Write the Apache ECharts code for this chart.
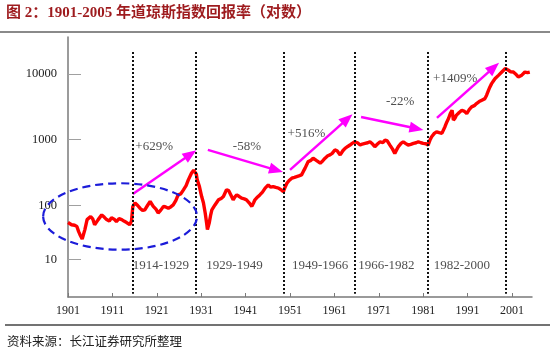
<!DOCTYPE html>
<html>
<head>
<meta charset="utf-8">
<script src="https://cdn.jsdelivr.net/npm/echarts@6/dist/echarts.min.js"></script>
<style>
    html, body { margin: 0; padding: 0; background: #fff; }
    #chart { width: 554px; height: 353px; }
</style>
</head>
<body>
<div id="chart"></div>
<script>
// dow jones index (log scale)
const years = [1901.0, 1901.8, 1902.5, 1903.0, 1903.4, 1903.7, 1904.2, 1904.8, 1905.3, 1906.1,
    1906.6, 1907.0, 1907.4, 1907.8, 1908.6, 1909.2, 1909.7, 1910.3, 1910.8, 1911.4,
    1911.9, 1912.5, 1913.1, 1913.6, 1914.2, 1914.9, 1915.3, 1915.6, 1916.1, 1916.7,
    1917.2, 1917.8, 1918.3, 1918.9, 1919.5, 1920.2, 1920.8, 1921.3, 1921.9, 1922.5,
    1923.0, 1923.6, 1924.2, 1924.7, 1925.3, 1925.8, 1926.4, 1927.0, 1927.6, 1928.1,
    1928.8, 1929.3, 1929.6, 1929.9, 1930.1, 1930.6, 1931.1, 1931.5, 1931.9, 1932.2,
    1932.4, 1932.8, 1933.1, 1933.4, 1934.1, 1934.9, 1935.5, 1936.0, 1936.7, 1937.2,
    1937.5, 1937.9, 1938.2, 1938.6, 1939.0, 1939.5, 1940.1, 1940.7, 1941.2, 1941.8,
    1942.4, 1942.8, 1943.1, 1943.7, 1944.2, 1944.8, 1945.4, 1946.1, 1946.6, 1947.2,
    1947.8, 1948.4, 1948.9, 1949.5, 1949.9, 1950.3, 1950.8, 1951.4, 1952.0, 1952.5,
    1953.0, 1953.6, 1954.0, 1954.4, 1955.1, 1955.6, 1956.2, 1956.6, 1957.0, 1957.4,
    1957.8, 1958.4, 1958.9, 1959.5, 1960.0, 1960.5, 1961.1, 1961.6, 1962.0, 1962.3,
    1962.9, 1963.4, 1964.0, 1964.5, 1965.0, 1965.6, 1966.2, 1966.8, 1967.3, 1967.9,
    1968.5, 1969.0, 1969.6, 1970.1, 1970.7, 1971.3, 1971.9, 1972.4, 1972.9, 1973.5,
    1974.1, 1974.6, 1975.0, 1975.4, 1976.0, 1976.5, 1977.0, 1977.6, 1978.2, 1978.8,
    1979.4, 1979.9, 1980.5, 1981.0, 1981.6, 1982.1, 1982.5, 1982.9, 1983.5, 1984.0,
    1984.6, 1985.2, 1985.9, 1986.3, 1986.7, 1987.1, 1987.5, 1987.8, 1988.2, 1988.5,
    1989.1, 1989.7, 1990.3, 1990.8, 1991.4, 1991.9, 1992.5, 1993.0, 1993.6, 1994.2,
    1994.9, 1995.3, 1995.7, 1996.0, 1996.4, 1996.8, 1997.2, 1997.6, 1998.0, 1998.3,
    1998.7, 1999.1, 1999.5, 1999.9, 2000.2, 2000.7, 2001.3, 2001.8, 2002.4, 2002.8,
    2003.2, 2003.6, 2003.9, 2004.5, 2005.0];
const dow = [55, 51, 50, 48, 40, 36, 31, 43, 61, 68,
    62, 51, 48, 61, 72, 66, 61, 58, 65, 62,
    57, 63, 61, 58, 55, 51, 58, 97, 109, 100,
    91, 84, 86, 100, 115, 97, 88, 77, 85, 97,
    95, 91, 96, 102, 120, 145, 150, 173, 200, 245,
    310, 345, 370, 300, 245, 194, 137, 110, 77, 55,
    43, 54, 70, 86, 102, 122, 128, 137, 173, 168,
    163, 135, 122, 135, 145, 138, 129, 126, 122, 110,
    97, 110, 122, 135, 145, 160, 184, 206, 190, 194,
    188, 184, 175, 163, 190, 218, 240, 260, 268, 275,
    282, 292, 330, 370, 465, 480, 524, 493, 480, 465,
    440, 480, 524, 570, 588, 620, 699, 680, 640, 588,
    680, 740, 790, 830, 880, 932, 900, 830, 860, 880,
    900, 932, 860, 784, 860, 932, 900, 988, 960, 830,
    720, 620, 700, 784, 880, 932, 880, 830, 850, 880,
    900, 932, 900, 880, 870, 830, 980, 1110, 1250, 1320,
    1280, 1250, 1580, 1850, 2100, 2500, 2810, 1990, 2150, 2370,
    2600, 2810, 2700, 2500, 2900, 3160, 3300, 3550, 3800, 3990,
    4220, 4800, 5630, 6300, 7130, 7800, 8520, 8000, 9600, 9000,
    10700, 11200, 12100, 11700, 11400, 10800, 10700, 10000, 9000, 8900,
    9600, 10200, 10700, 10500, 10700];

// axis ticks
const xTicks = [1901, 1911, 1921, 1931, 1941, 1951, 1961, 1971, 1981, 1991, 2001];
const yTickValues = [15, 100, 1000, 10000];
const yTickLabels = ["10", "100", "1000", "10000"];

// period boundaries and names
const periodYears = [1915.5, 1929.8, 1949.6, 1965.6, 1982.1, 1999.5];
const periodNames = ["1914-1929", "1929-1949", "1949-1966", "1966-1982", "1982-2000"];
const periodNameX = [1921.9, 1938.5, 1957.8, 1972.7, 1989.7];

// return of every period, with the arrow drawn for it
const returnNames = ["+629%", "-58%", "+516%", "-22%", "+1409%"];
const returnX = [1920.4, 1941.3, 1954.7, 1975.8, 1988.2];
const returnY = [787, 787, 1227, 3800, 8420];
const arrowFrom = [[1915.6, 150], [1932.5, 701], [1951.0, 348], [1967.0, 2223], [1984.1, 2149]];
const arrowTo = [[1928.6, 600], [1947.9, 345], [1963.9, 2080], [1979.5, 1480], [1996.9, 12600]];

// dashed ellipse around 1901-1929 (two corners of its box)
const ellipseBox = [[1895.4, 218, 1930.05, 21.3]];

const serif = "'Liberation Serif', 'Times New Roman', 'Noto Sans CJK SC', serif";

let chart = echarts.init(document.querySelector("#chart"));

let option = {
    animation: false,
    grid: { left: 68, right: 22, top: 37, bottom: 56, outerBoundsMode: "none" },
    xAxis: {
        type: "value",
        min: 1901,
        max: 2005.5,
        axisLine: { lineStyle: { color: "#7a7a7a", width: 1.5 } },
        axisTick: { show: true, inside: true, length: 4, customValues: xTicks, lineStyle: { color: "#7a7a7a" } },
        axisLabel: {
            customValues: xTicks,
            margin: 8,
            fontFamily: serif,
            fontSize: 12,
            color: "#222",
            formatter: value => String(Math.round(value))
        },
        splitLine: { show: false }
    },
    yAxis: {
        type: "log",
        logBase: 10,
        min: 4.06,
        max: 36500,
        axisLine: { show: true, lineStyle: { color: "#7a7a7a", width: 1.5 } },
        axisTick: { show: true, inside: true, length: 13, customValues: yTickValues, lineStyle: { color: "#a0a0a0", width: 1 } },
        axisLabel: {
            customValues: yTickValues,
            margin: 11,
            fontFamily: serif,
            fontSize: 12.5,
            color: "#222",
            formatter: function (value) {
                let i = yTickValues.findIndex(v => Math.abs(v - value) / v < 0.01);
                return i >= 0 ? yTickLabels[i] : "";
            }
        },
        splitLine: { show: false }
    },
    graphic: [
        {
            type: "text",
            left: 6,
            top: 6,
            style: {
                text: "图 2：1901-2005 年道琼斯指数回报率（对数）",
                fill: "#9e1b1e",
                font: "bold 15px " + serif
            }
        },
        {
            type: "line",
            shape: { x1: 0, y1: 32, x2: 550, y2: 32 },
            style: { stroke: "#8a8a8a", lineWidth: 2 }
        },
        {
            type: "line",
            shape: { x1: 5, y1: 325, x2: 550, y2: 325 },
            style: { stroke: "#444", lineWidth: 1.5 }
        },
        {
            type: "text",
            left: 7,
            top: 335,
            style: {
                text: "资料来源：长江证券研究所整理",
                fill: "#222",
                font: "12.5px 'Noto Sans CJK SC', sans-serif"
            }
        }
    ],
    series: [
        {
            name: "dow",
            type: "line",
            data: years.map((y, i) => [y, dow[i]]),
            showSymbol: false,
            symbol: "none",
            lineStyle: { color: "#ff0000", width: 3.4 },
            z: 3,
            markLine: {
                silent: true,
                symbol: ["none", "triangle"],
                symbolSize: [11, 14],
                label: { show: false },
                lineStyle: { color: "#ff00ff", width: 2.5, type: "solid" },
                data: arrowFrom.map((p, i) => [{ coord: p }, { coord: arrowTo[i] }])
            }
        },
        {
            name: "periods",
            type: "scatter",
            symbolSize: 1,
            itemStyle: { color: "rgba(0,0,0,0)" },
            data: periodNames.map((n, i) => ({ name: n, value: [periodNameX[i], 12.1] }))
                .concat(returnNames.map((n, i) => ({ name: n, value: [returnX[i], returnY[i]] }))),
            label: {
                show: true,
                position: "inside",
                formatter: "{b}",
                fontFamily: serif,
                fontSize: 13,
                color: "#222"
            },
            z: 4,
            markLine: {
                silent: true,
                symbol: ["none", "none"],
                label: { show: false },
                lineStyle: { color: "#111", width: 2, type: [2, 2] },
                data: periodYears.map(x => [{ coord: [x, 21600] }, { coord: [x, 4.56] }])
            }
        },
        {
            name: "ellipse",
            type: "custom",
            clip: false,
            silent: true,
            z: 5,
            data: ellipseBox,
            renderItem: function (params, api) {
                let a = api.coord([api.value(0), api.value(1)]);
                let b = api.coord([api.value(2), api.value(3)]);
                return {
                    type: "ellipse",
                    shape: {
                        cx: (a[0] + b[0]) / 2,
                        cy: (a[1] + b[1]) / 2,
                        rx: Math.abs(b[0] - a[0]) / 2,
                        ry: Math.abs(b[1] - a[1]) / 2
                    },
                    style: { fill: "none", stroke: "#1c1cd9", lineWidth: 2.2, lineDash: [8, 5] }
                };
            }
        }
    ]
};

chart.setOption(option);
</script>
</body>
</html>
